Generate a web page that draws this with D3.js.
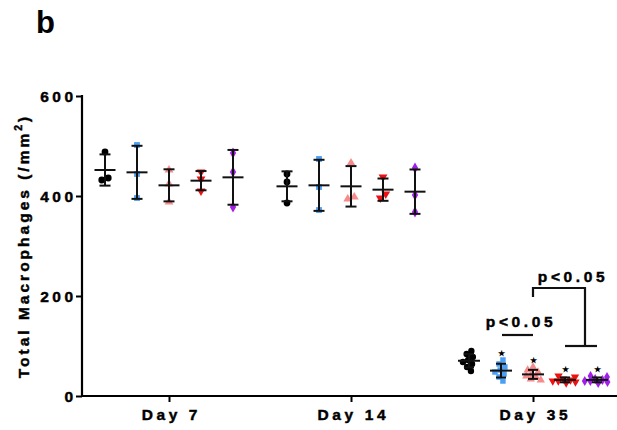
<!DOCTYPE html>
<html>
<head>
<meta charset="utf-8">
<script src="https://cdn.jsdelivr.net/npm/d3@7"></script>
<style>
  body { margin: 0; background: #fff; }
  text { font-family: "Liberation Sans", Arial, sans-serif; font-weight: bold; }
  .heavy { stroke: #000; stroke-width: 0.45px; }
</style>
</head>
<body>
<svg width="617" height="430"></svg>
<script>
var days = ["Day 7", "Day 14", "Day 35"];
var groups = ["g1", "g2", "g3", "g4", "g5"];
var colors = ["#000000", "#4a9ff5", "#f78a8a", "#ee1111", "#a020e8"];
var yTicks = [0, 200, 400, 600];

// raw points per day, one array per group
var day7 = [
  [488, 432, 436],
  [502, 444, 396],
  [452, 424, 388],
  [448, 434, 410],
  [486, 448, 378]
];
var day14 = [
  [444, 428, 386],
  [474, 418, 372],
  [466, 394, 398],
  [438, 396, 404],
  [456, 402, 368]
];
var day35 = [
  [90, 84, 78, 72, 68, 64, 58, 50],
  [72, 64, 58, 52, 48, 44, 38, 30],
  [58, 52, 48, 44, 40, 38, 34, 32],
  [40, 38, 34, 32, 30, 30, 28, 26],
  [40, 38, 34, 32, 30, 30, 28, 26]
];
var values = [day7, day14, day35];
var starred = [false, true, true, true, true]; // Day 35 only

var svg = d3.select("svg");

var y = d3.scaleLinear().domain([0, 600]).range([396, 96]);
var xDay = d3.scalePoint().domain(days).range([169, 533]);
var xGroup = d3.scalePoint().domain(groups).range([-64, 64]);

var shapes = [d3.symbolCircle, d3.symbolSquare, d3.symbolTriangle, d3.symbolTriangle, d3.symbolDiamond];
function marker(gi, di) {
  var s = di === 2 ? 30 : 34;
  return d3.symbol().type(shapes[gi]).size(gi === 0 ? s + 2 : s)();
}

// panel letter
svg.append("text")
  .attr("x", 36).attr("y", 33)
  .attr("font-size", 31)
  .text("b");

// y axis
var yAxis = svg.append("g")
  .attr("transform", "translate(82,0)")
  .call(d3.axisLeft(y).tickValues(yTicks).tickSize(6).tickPadding(3));
yAxis.select(".domain").attr("stroke-width", 2.2).attr("d", "M0,95V396");
yAxis.selectAll(".tick line").attr("stroke-width", 2);
yAxis.selectAll(".tick text")
  .attr("class", "heavy")
  .attr("font-size", 15.5)
  .attr("letter-spacing", 3.4)
  .attr("dx", 3.4)
  .attr("dy", "0.36em")
  .attr("font-family", "Liberation Sans, Arial, sans-serif")
  .attr("font-weight", "bold");

// x axis
var xAxis = svg.append("g")
  .attr("transform", "translate(0,396)")
  .call(d3.axisBottom(xDay).tickSize(6).tickPadding(7));
xAxis.select(".domain").attr("stroke-width", 2.2).attr("d", "M81,0H617");
xAxis.selectAll(".tick line").attr("stroke-width", 2);
xAxis.selectAll(".tick text")
  .attr("class", "heavy")
  .attr("font-size", 15.5)
  .attr("letter-spacing", 3.6)
  .attr("dx", 1.8)
  .attr("font-family", "Liberation Sans, Arial, sans-serif")
  .attr("font-weight", "bold");

// y title
svg.append("text")
  .attr("class", "heavy")
  .attr("transform", "translate(29,246) rotate(-90)")
  .attr("text-anchor", "middle")
  .attr("font-size", 15.5)
  .attr("letter-spacing", 3)
  .html('Total Macrophages (/mm<tspan dy="-7" font-size="10.5">2</tspan><tspan dy="7">)</tspan>');

var plot = svg.append("g");

days.forEach(function(day, di) {
  values[di].forEach(function(pts, gi) {
    var cx = xDay(day) + xGroup(groups[gi]);
    var mean = d3.mean(pts);
    var sd = d3.deviation(pts);
    var col = colors[gi];

    // dodge overlapping points
    var nodes = pts.map(function(v) { return { v: v, fy: y(v), x: cx }; });
    var sim = d3.forceSimulation(nodes)
      .force("x", d3.forceX(cx).strength(0.15))
      .force("collide", d3.forceCollide(di === 2 ? 2.8 : 3.4))
      .stop();
    sim.tick(150);

    var g = plot.append("g");
    g.selectAll("path.pt")
      .data(nodes)
      .enter()
      .append("path")
        .attr("class", "pt")
        .attr("d", marker(gi, di))
        .attr("fill", col)
        .attr("transform", function(d) {
          return "translate(" + d.x + "," + d.fy + ")" + (gi === 3 ? " rotate(180)" : "");
        });

    // mean and SD bars
    var lw = di === 2 ? 11 : 10.5;
    var cw = di === 2 ? 5 : 5.5;
    g.append("line")
      .attr("x1", cx).attr("x2", cx)
      .attr("y1", y(mean + sd)).attr("y2", y(mean - sd))
      .attr("stroke", "#111").attr("stroke-width", 2);
    g.append("line")
      .attr("x1", cx - lw).attr("x2", cx + lw)
      .attr("y1", y(mean)).attr("y2", y(mean))
      .attr("stroke", "#111").attr("stroke-width", 2);
    [mean + sd, mean - sd].forEach(function(v) {
      g.append("line")
        .attr("x1", cx - cw).attr("x2", cx + cw)
        .attr("y1", y(v)).attr("y2", y(v))
        .attr("stroke", "#111").attr("stroke-width", 2);
    });

    if (di === 2 && starred[gi]) {
      g.append("text")
        .attr("x", cx).attr("y", y(d3.max(pts)) - 4)
        .attr("text-anchor", "middle")
        .attr("font-size", 8)
        .text("★");
    }
  });
});

// significance brackets
var d35 = xDay("Day 35");
var xb = d35 + xGroup("g2"), xp = d35 + xGroup("g3");
var xr = d35 + xGroup("g4"), xv = d35 + xGroup("g5");
var sig = svg.append("g").attr("stroke", "#111").attr("stroke-width", 2.2).attr("fill", "none");

sig.append("line")
  .attr("x1", xb + 1).attr("x2", xp).attr("y1", y(122)).attr("y2", y(122));
svg.append("text")
  .attr("class", "heavy")
  .attr("x", (xb + xp) / 2 + 4).attr("y", y(138))
  .attr("text-anchor", "middle")
  .attr("font-size", 15.5).attr("letter-spacing", 3.6)
  .text("p<0.05");

var xm = (xr + xv) / 2 + 4;
sig.append("path")
  .attr("d", "M" + xp + "," + y(198) + "V" + y(216) + "H" + xm + "V" + y(100));
sig.append("line")
  .attr("x1", xr).attr("x2", xv).attr("y1", y(100)).attr("y2", y(100));
svg.append("text")
  .attr("class", "heavy")
  .attr("x", (xp + xv) / 2 + 8).attr("y", y(228))
  .attr("text-anchor", "middle")
  .attr("font-size", 15.5).attr("letter-spacing", 3.6)
  .text("p<0.05");
</script>
</body>
</html>
